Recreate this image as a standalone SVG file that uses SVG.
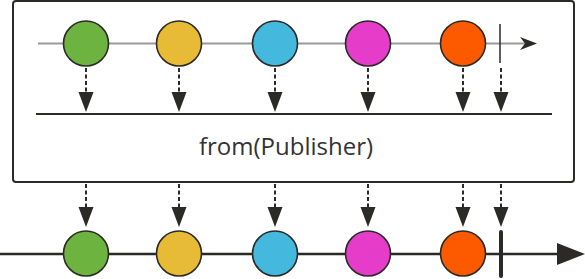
<svg xmlns="http://www.w3.org/2000/svg" width="585" height="279" viewBox="0 0 585 279">
<style>
.box{fill:#fff;stroke:#2b2a27;stroke-width:2}
.c{stroke:#2b2a27;stroke-width:1.6}
.dash{stroke:#2b2a27;stroke-width:2;stroke-dasharray:4 2.5;fill:none}
.head{fill:#2b2a27}
.lbl{font-family:"Open Sans","Noto Sans",sans-serif;font-size:24px;fill:#333}
</style>
<defs>
<polygon id="ah" class="head" points="-7.5,0 7.5,0 0,20"/>
</defs>
<rect width="585" height="279" fill="#fff"/>
<g id="operator">
<rect class="box" x="13" y="1" width="561" height="181" rx="3"/>
<text class="lbl" x="286" y="155" text-anchor="middle">from(Publisher)</text>
</g>
<g id="connectors">
<line x1="38" y1="43.5" x2="530" y2="43.5" stroke="#9a9a9a" stroke-width="2"/>
<polygon points="537,43.5 520,37 525,43.5 520,50" fill="#2b2a27"/>
<line x1="500" y1="24" x2="500" y2="63" stroke="#2b2a27" stroke-width="1.5"/>
<line x1="36" y1="114" x2="552" y2="114" stroke="#2b2a27" stroke-width="2"/>
<line x1="0" y1="254" x2="560" y2="254" stroke="#2b2a27" stroke-width="2.5"/>
<polygon points="585,254 557,243 557,265" fill="#2b2a27"/>
<line x1="501" y1="232" x2="501" y2="276" stroke="#2b2a27" stroke-width="4" stroke-linecap="round"/>
<g>
<line class="dash" x1="86" y1="68" x2="86" y2="93"/><use href="#ah" x="86" y="92"/>
<line class="dash" x1="179" y1="68" x2="179" y2="93"/><use href="#ah" x="179" y="92"/>
<line class="dash" x1="275" y1="68" x2="275" y2="93"/><use href="#ah" x="275" y="92"/>
<line class="dash" x1="368" y1="68" x2="368" y2="93"/><use href="#ah" x="368" y="92"/>
<line class="dash" x1="463" y1="68" x2="463" y2="93"/><use href="#ah" x="463" y="92"/>
<line class="dash" x1="501" y1="68" x2="501" y2="93"/><use href="#ah" x="501" y="92"/>
<line class="dash" x1="86" y1="184" x2="86" y2="209"/><use href="#ah" x="86" y="207"/>
<line class="dash" x1="179" y1="184" x2="179" y2="209"/><use href="#ah" x="179" y="207"/>
<line class="dash" x1="275" y1="184" x2="275" y2="209"/><use href="#ah" x="275" y="207"/>
<line class="dash" x1="368" y1="184" x2="368" y2="209"/><use href="#ah" x="368" y="207"/>
<line class="dash" x1="463" y1="184" x2="463" y2="209"/><use href="#ah" x="463" y="207"/>
<line class="dash" x1="501" y1="184" x2="501" y2="209"/><use href="#ah" x="501" y="207"/>
</g>
</g>
<g id="top-green"><circle class="c" cx="86" cy="43.5" r="22.5" fill="#6cb43f"/></g>
<g id="top-yellow"><circle class="c" cx="179" cy="43.5" r="22.5" fill="#e7bb35"/></g>
<g id="top-blue"><circle class="c" cx="275" cy="43.5" r="22.5" fill="#45b8de"/></g>
<g id="top-magenta"><circle class="c" cx="368" cy="43.5" r="22.5" fill="#e53cc9"/></g>
<g id="top-orange"><circle class="c" cx="463" cy="43.5" r="22.5" fill="#fd5a00"/></g>
<g id="bot-green"><circle class="c" cx="86" cy="253.5" r="22.5" fill="#6cb43f"/></g>
<g id="bot-yellow"><circle class="c" cx="179" cy="253.5" r="22.5" fill="#e7bb35"/></g>
<g id="bot-blue"><circle class="c" cx="275" cy="253.5" r="22.5" fill="#45b8de"/></g>
<g id="bot-magenta"><circle class="c" cx="368" cy="253.5" r="22.5" fill="#e53cc9"/></g>
<g id="bot-orange"><circle class="c" cx="463" cy="253.5" r="22.5" fill="#fd5a00"/></g>
</svg>
